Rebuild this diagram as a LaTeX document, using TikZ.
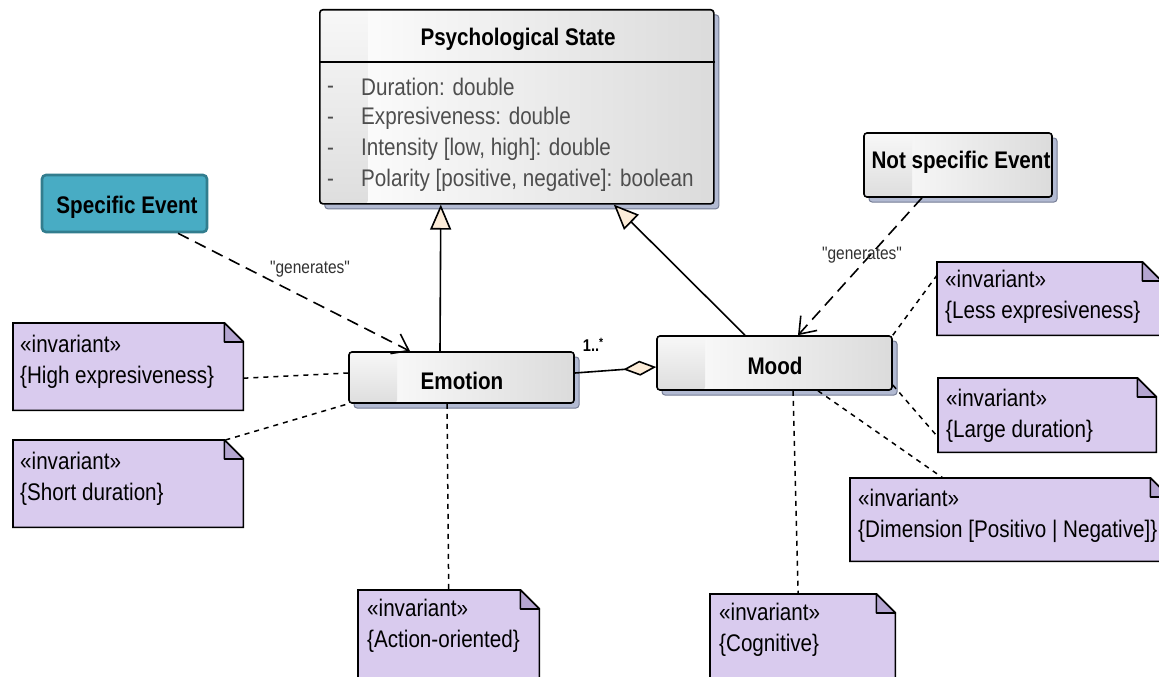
\documentclass[tikz,border=0pt]{standalone}
\usepackage{fontspec}
\setmainfont{Liberation Sans}[FakeStretch=0.86, Ligatures=TeXOff]
\usetikzlibrary{arrows.meta,shadows}

\definecolor{notefill}{RGB}{217,203,238}
\definecolor{notefold}{RGB}{180,165,208}
\definecolor{eventfill}{RGB}{72,172,196}
\definecolor{eventdraw}{RGB}{50,125,142}
\definecolor{shadowfill}{RGB}{178,186,210}
\definecolor{shadowdraw}{RGB}{118,126,150}
\definecolor{tipfill}{RGB}{252,236,216}
\definecolor{attrtext}{RGB}{78,78,78}
\definecolor{lbltext}{RGB}{50,50,50}

\tikzset{
  bigfont/.style={font=\fontsize{24}{31}\selectfont},
  boldfont/.style={font=\fontsize{24}{31}\selectfont\bfseries},
  classbox/.style={draw=black, line width=1.6pt, rounded corners=3pt,
    left color=white, right color=black!14, inner sep=0pt,
    general shadow={shadow xshift=5pt, shadow yshift=-5pt, fill=shadowfill,
      draw=shadowdraw, line width=1pt},
    path picture={\shade[top color=black!3, bottom color=black!13]
      (path picture bounding box.south west) rectangle
      ([xshift=48pt]path picture bounding box.north west);}},
  eventbox/.style={draw=eventdraw, fill=eventfill, line width=2.6pt,
    rounded corners=4pt, inner sep=0pt},
  classname/.style={boldfont, inner sep=0pt},
  attr/.style={bigfont, text=attrtext, anchor=west, inner sep=0pt},
  notearea/.style={rectangle, draw=none, inner sep=0pt, anchor=north west},
  notepaperst/.style={draw=black, fill=notefill, line width=1.6pt},
  notefoldst/.style={draw=black, fill=notefold, line width=1.6pt, line join=round},
  notetext/.style={bigfont, anchor=north west, align=left, inner sep=0pt},
  lbl/.style={font=\fontsize{18}{20}\selectfont, text=lbltext, inner sep=0pt},
  mult/.style={font=\fontsize{17}{20}\selectfont\bfseries, inner sep=0pt},
  generalization/.style={draw=black, line width=1.6pt,
    -{Triangle[fill=tipfill, length=25pt, width=21pt]}},
  aggregation/.style={draw=black, line width=1.6pt,
    -{Diamond[fill=tipfill, length=33pt, width=15pt]}},
  dependency/.style={draw=black, line width=1.6pt, dash pattern=on 12pt off 7pt,
    -{Straight Barb[length=15pt, width=22pt, line width=1.6pt]}},
  anchorline/.style={draw=black, line width=1.5pt, dash pattern=on 5pt off 5pt},
}

% dog-eared note outline around a named note area
\newcommand\notepaper[1]{%
  \filldraw[notepaperst] (#1.north west) -- ([xshift=-19pt]#1.north east)
    -- ([yshift=-19pt]#1.north east) -- (#1.south east) -- (#1.south west) -- cycle;
  \filldraw[notefoldst] ([xshift=-19pt]#1.north east)
    -- ([xshift=-19pt,yshift=-19pt]#1.north east)
    -- ([yshift=-19pt]#1.north east) -- cycle;}

\begin{document}
\begin{tikzpicture}[x=1pt,y=-1pt]
\useasboundingbox (0,0) rectangle (1159,677);
\fill[white] (0,0) rectangle (1159,677);

% ---- classes ----
\node[classbox, minimum width=394pt, minimum height=194pt, anchor=north west]
  (ps) at (319,9) {};
\draw[line width=1.4pt] (ps.west |- 0,62) -- (ps.east |- 0,62);
\node[classname] (pstitle) at (518,39) {Psychological State};
\foreach \i/\y/\t in {1/87/{Duration: double},
                      2/118/{Expresiveness: double},
                      3/149/{Intensity [low, high]: double},
                      4/180/{Polarity [positive, negative]: boolean}}{
  \node[attr] (dash\i) at (327,\y+3) {-};
  \node[attr] (attr\i) at (361,\y) {\t};
}

\node[eventbox, minimum width=165pt, minimum height=57pt] (se) at (124.5,203.5) {};
\node[classname] (setext) at (127,207) {Specific Event};

\node[classbox, minimum width=188pt, minimum height=64pt] (nse) at (958,165) {};
\node[classname] (nsetext) at (961,162) {Not specific Event};

\node[classbox, minimum width=225pt, minimum height=51pt] (em) at (461.5,377.5) {};
\node[classname] (emtext) at (462,381) {Emotion};

\node[classbox, minimum width=235pt, minimum height=54pt] (mood) at (774.5,363) {};
\node[classname] (moodtext) at (775,366) {Mood};

% ---- invariant notes ----
\node[notearea, minimum width=230pt, minimum height=87pt] (n1) at (13,323) {};
\node[notearea, minimum width=230pt, minimum height=87pt] (n2) at (13,440) {};
\node[notearea, minimum width=181pt, minimum height=92pt] (n3) at (358,590) {};
\node[notearea, minimum width=185pt, minimum height=88pt] (n4) at (710,594) {};
\node[notearea, minimum width=319pt, minimum height=83pt] (n5) at (850,478) {};
\node[notearea, minimum width=218pt, minimum height=74pt] (n6) at (938,378) {};
\node[notearea, minimum width=224pt, minimum height=73pt] (n7) at (937,262) {};
\foreach \n in {n1,n2,n3,n4,n5,n6,n7}{\notepaper{\n}}

\node[notetext] (t1) at ([xshift=7pt,yshift=-12pt]n1.north west) {«invariant»\\\{High expresiveness\}};
\node[notetext] (t2) at ([xshift=7pt,yshift=-12pt]n2.north west) {«invariant»\\\{Short duration\}};
\node[notetext] (t3) at ([xshift=9pt,yshift=-9pt]n3.north west) {«invariant»\\\{Action-oriented\}};
\node[notetext] (t4) at ([xshift=9pt,yshift=-9pt]n4.north west) {«invariant»\\\{Cognitive\}};
\node[notetext] (t5) at ([xshift=8pt,yshift=-11pt]n5.north west) {«invariant»\\\{Dimension [Positivo | Negative]\}};
\node[notetext] (t6) at ([xshift=8pt,yshift=-11pt]n6.north west) {«invariant»\\\{Large duration\}};
\node[notetext] (t7) at ([xshift=8pt,yshift=-8pt]n7.north west) {«invariant»\\\{Less expresiveness\}};

% ---- relations ----
\draw[generalization] ([xshift=-21.5pt]em.north) -- ([xshift=-76pt]ps.south);
\draw[generalization] ([xshift=-29.5pt]mood.north) -- ([xshift=97pt]ps.south);
\draw[aggregation] ([yshift=4.5pt]em.east) -- ([yshift=-4pt]mood.west);
\node[mult] (m1) at (593,345) {1..\raisebox{5pt}{\fontsize{12}{12}\selectfont *}};

\draw[dependency] ([xshift=53.5pt]se.south) -- ([xshift=-51.5pt]em.north);
\node[lbl] (g1) at (310,269) {"generates"};
\draw[dependency] ([xshift=-36pt]nse.south) -- ([xshift=23.5pt]mood.north);
\node[lbl] (g2) at (862,255) {"generates"};

% ---- note anchors ----
\draw[anchorline] ([yshift=-11.5pt]n1.east) -- ([yshift=4.5pt]em.west);
\draw[anchorline] ([xshift=-18pt]n2.north east) -- (em.south west);
\draw[anchorline] ([xshift=-14.5pt]em.south) -- (n3.north);
\draw[anchorline] ([xshift=18.5pt]mood.south) -- ([xshift=-4.5pt]n4.north);
\draw[anchorline] ([xshift=43.5pt]mood.south) -- ([xshift=93pt]n5.north west);
\draw[anchorline] ([yshift=-22pt]mood.east) -- ([yshift=-22pt]n6.west);
\draw[anchorline] (mood.north east) -- ([yshift=23.5pt]n7.west);
\end{tikzpicture}
\end{document}
